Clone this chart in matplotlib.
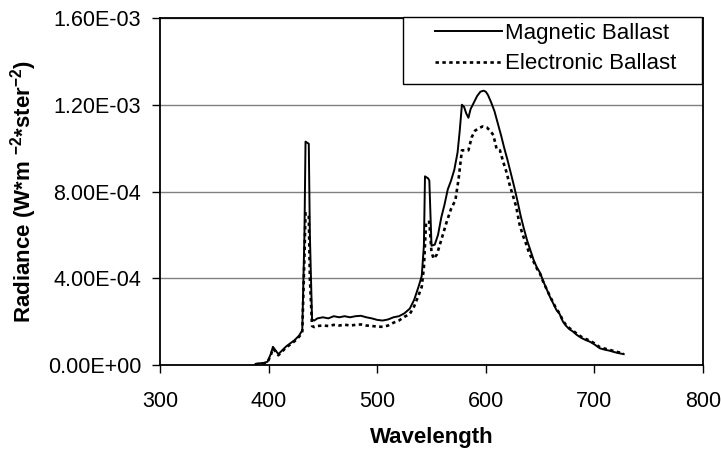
import matplotlib
matplotlib.use("Agg")
import matplotlib.pyplot as plt
from matplotlib.patches import Rectangle
from matplotlib.ticker import FuncFormatter

plt.rcParams['font.family'] = ['Liberation Sans', 'DejaVu Sans']
plt.rcParams['mathtext.fontset'] = 'custom'
plt.rcParams['mathtext.rm'] = 'Liberation Sans:bold'
plt.rcParams['mathtext.bf'] = 'Liberation Sans:bold'

# ---------------- data (radiance in units of 1e-4 W m^-2 ster^-2) ----------------
mag_wl = [388, 392, 396, 399, 402, 404, 406, 409, 412, 416, 420, 424, 428, 431, 433, 434, 437, 438, 440,
          442, 445, 450, 455, 460, 465, 470, 475, 480, 485, 490, 495, 500, 505, 510, 515, 520, 525, 530,
          534, 538, 541, 543, 544, 547, 548, 550, 553, 556, 559, 562, 565, 568, 571, 574, 576, 578, 580,
          582, 584, 586, 589, 592, 595, 598, 600, 602, 605, 608, 611, 614, 617, 620, 623, 626, 629, 632,
          635, 638, 641, 644, 647, 650, 653, 656, 659, 662, 665, 668, 671, 674, 677, 680, 684, 688, 692,
          696, 700, 705, 710, 714, 718, 722, 727]
mag_val = [0.05, 0.08, 0.10, 0.15, 0.50, 0.84, 0.70, 0.50, 0.65, 0.85, 1.00, 1.15, 1.35, 1.60, 6.0, 10.3, 10.2, 6.0, 2.1,
           2.05, 2.15, 2.20, 2.15, 2.25, 2.20, 2.25, 2.20, 2.25, 2.27, 2.20, 2.15, 2.08, 2.05, 2.10, 2.20, 2.25, 2.38, 2.60,
           3.00, 3.60, 4.10, 5.50, 8.70, 8.60, 8.50, 5.50, 5.55, 6.00, 6.80, 7.40, 8.10, 8.50, 9.00, 9.80, 10.8, 12.0, 11.9,
           11.6, 11.4, 11.8, 12.1, 12.4, 12.6, 12.65, 12.6, 12.45, 12.1, 11.7, 11.15, 10.6, 10.0, 9.45, 8.85, 8.25, 7.60, 6.90,
           6.30, 5.75, 5.30, 4.85, 4.50, 4.25, 3.85, 3.50, 3.15, 2.85, 2.54, 2.35, 2.00, 1.80, 1.65, 1.55, 1.38, 1.25, 1.15,
           1.07, 0.95, 0.77, 0.70, 0.66, 0.60, 0.55, 0.50]

ele_wl = [388, 392, 396, 399, 402, 404, 406, 409, 412, 416, 420, 424, 428, 431, 433, 434, 437, 438, 440,
          442, 445, 450, 455, 460, 465, 470, 475, 480, 485, 490, 495, 500, 505, 510, 515, 520, 525, 530,
          534, 538, 541, 543, 545, 548, 550, 552, 555, 558, 561, 564, 568, 572, 575, 578, 584, 587, 590,
          593, 597, 601, 604, 607, 610, 613, 616, 619, 622, 625, 628, 631, 634, 637, 640, 644, 647, 650,
          653, 656, 659, 662, 665, 668, 671, 674, 677, 680, 684, 688, 692, 696, 700, 705, 710, 714, 718,
          722, 727]
ele_val = [0.03, 0.06, 0.08, 0.12, 0.45, 0.75, 0.65, 0.45, 0.60, 0.80, 0.95, 1.10, 1.30, 1.50, 5.0, 7.0, 6.9, 4.0, 1.8,
           1.75, 1.80, 1.82, 1.80, 1.85, 1.82, 1.86, 1.82, 1.85, 1.87, 1.82, 1.80, 1.77, 1.76, 1.82, 1.95, 2.05, 2.22, 2.35,
           2.70, 3.20, 3.60, 4.50, 6.60, 6.60, 5.20, 4.90, 5.10, 5.60, 6.10, 6.60, 7.20, 7.60, 8.60, 9.90, 9.90, 10.5, 10.8,
           10.9, 11.0, 10.95, 10.8, 10.6, 9.95, 9.90, 9.37, 8.90, 8.30, 7.80, 7.30, 6.50, 6.00, 5.60, 5.15, 4.76, 4.45, 4.20,
           3.82, 3.50, 3.18, 2.88, 2.58, 2.38, 2.04, 1.84, 1.70, 1.60, 1.43, 1.30, 1.20, 1.12, 1.00, 0.82, 0.75, 0.70, 0.64,
           0.59, 0.54]

series_labels = ["Magnetic Ballast", "Electronic Ballast"]
y_ticks = [0.0, 4e-4, 8e-4, 1.2e-3, 1.6e-3]
x_ticks = [300, 400, 500, 600, 700, 800]
SCALE = 1e-4

# ---------------- figure ----------------
W, H = 721, 449
fig = plt.figure(figsize=(W / 100, H / 100), dpi=100)
L, R, T, B = 160, 703, 18, 365
ax = fig.add_axes([L / W, 1 - B / H, (R - L) / W, (B - T) / H])

ax.plot(mag_wl, [v * SCALE for v in mag_val], color='black', lw=1.4,
        label=series_labels[0], zorder=3)
ax.plot(ele_wl, [v * SCALE for v in ele_val], color='black', lw=1.9,
        linestyle=(0, (1.3, 1.3)), dash_capstyle='butt', label=series_labels[1], zorder=3)

ax.set_xlim(300, 800)
ax.set_ylim(0, 1.6e-3)
ax.set_xticks(x_ticks)
ax.set_yticks(y_ticks)
ax.yaxis.set_major_formatter(FuncFormatter(lambda v, p: f"{v:.2E}"))
ax.grid(axis='y', color='#808080', lw=1.0)
ax.set_axisbelow(True)
for s in ax.spines.values():
    s.set_color('black')
    s.set_linewidth(1.3)
ax.tick_params(axis='both', direction='out', length=5.5, width=1.0, colors='black',
               labelsize=15.5)
ax.tick_params(axis='x', pad=13)
ax.tick_params(axis='y', pad=8)

ax.set_xlabel("Wavelength", fontsize=16, fontweight='bold', labelpad=11)
ax.set_ylabel(r"Radiance (W*m $^{\mathbf{-2}}$*ster$^{\mathbf{-2}}$)", fontsize=16,
              fontweight='bold')
ax.yaxis.set_label_coords(-0.222, 0.5)

# legend frame and legend
box = Rectangle((403 / W, 1 - 84 / H), 299 / W, 67 / H, transform=fig.transFigure,
                facecolor='white', edgecolor='black', lw=1.0, zorder=10, clip_on=False)
fig.add_artist(box)
leg = fig.legend(loc='upper left', bbox_to_anchor=(435 / W, 1 - 23 / H), frameon=False,
                 fontsize=16, handlelength=3.0, handletextpad=0.15, borderpad=0,
                 borderaxespad=0, labelspacing=0.42)
leg.set_zorder(11)

fig.savefig("out.png", dpi=100)
